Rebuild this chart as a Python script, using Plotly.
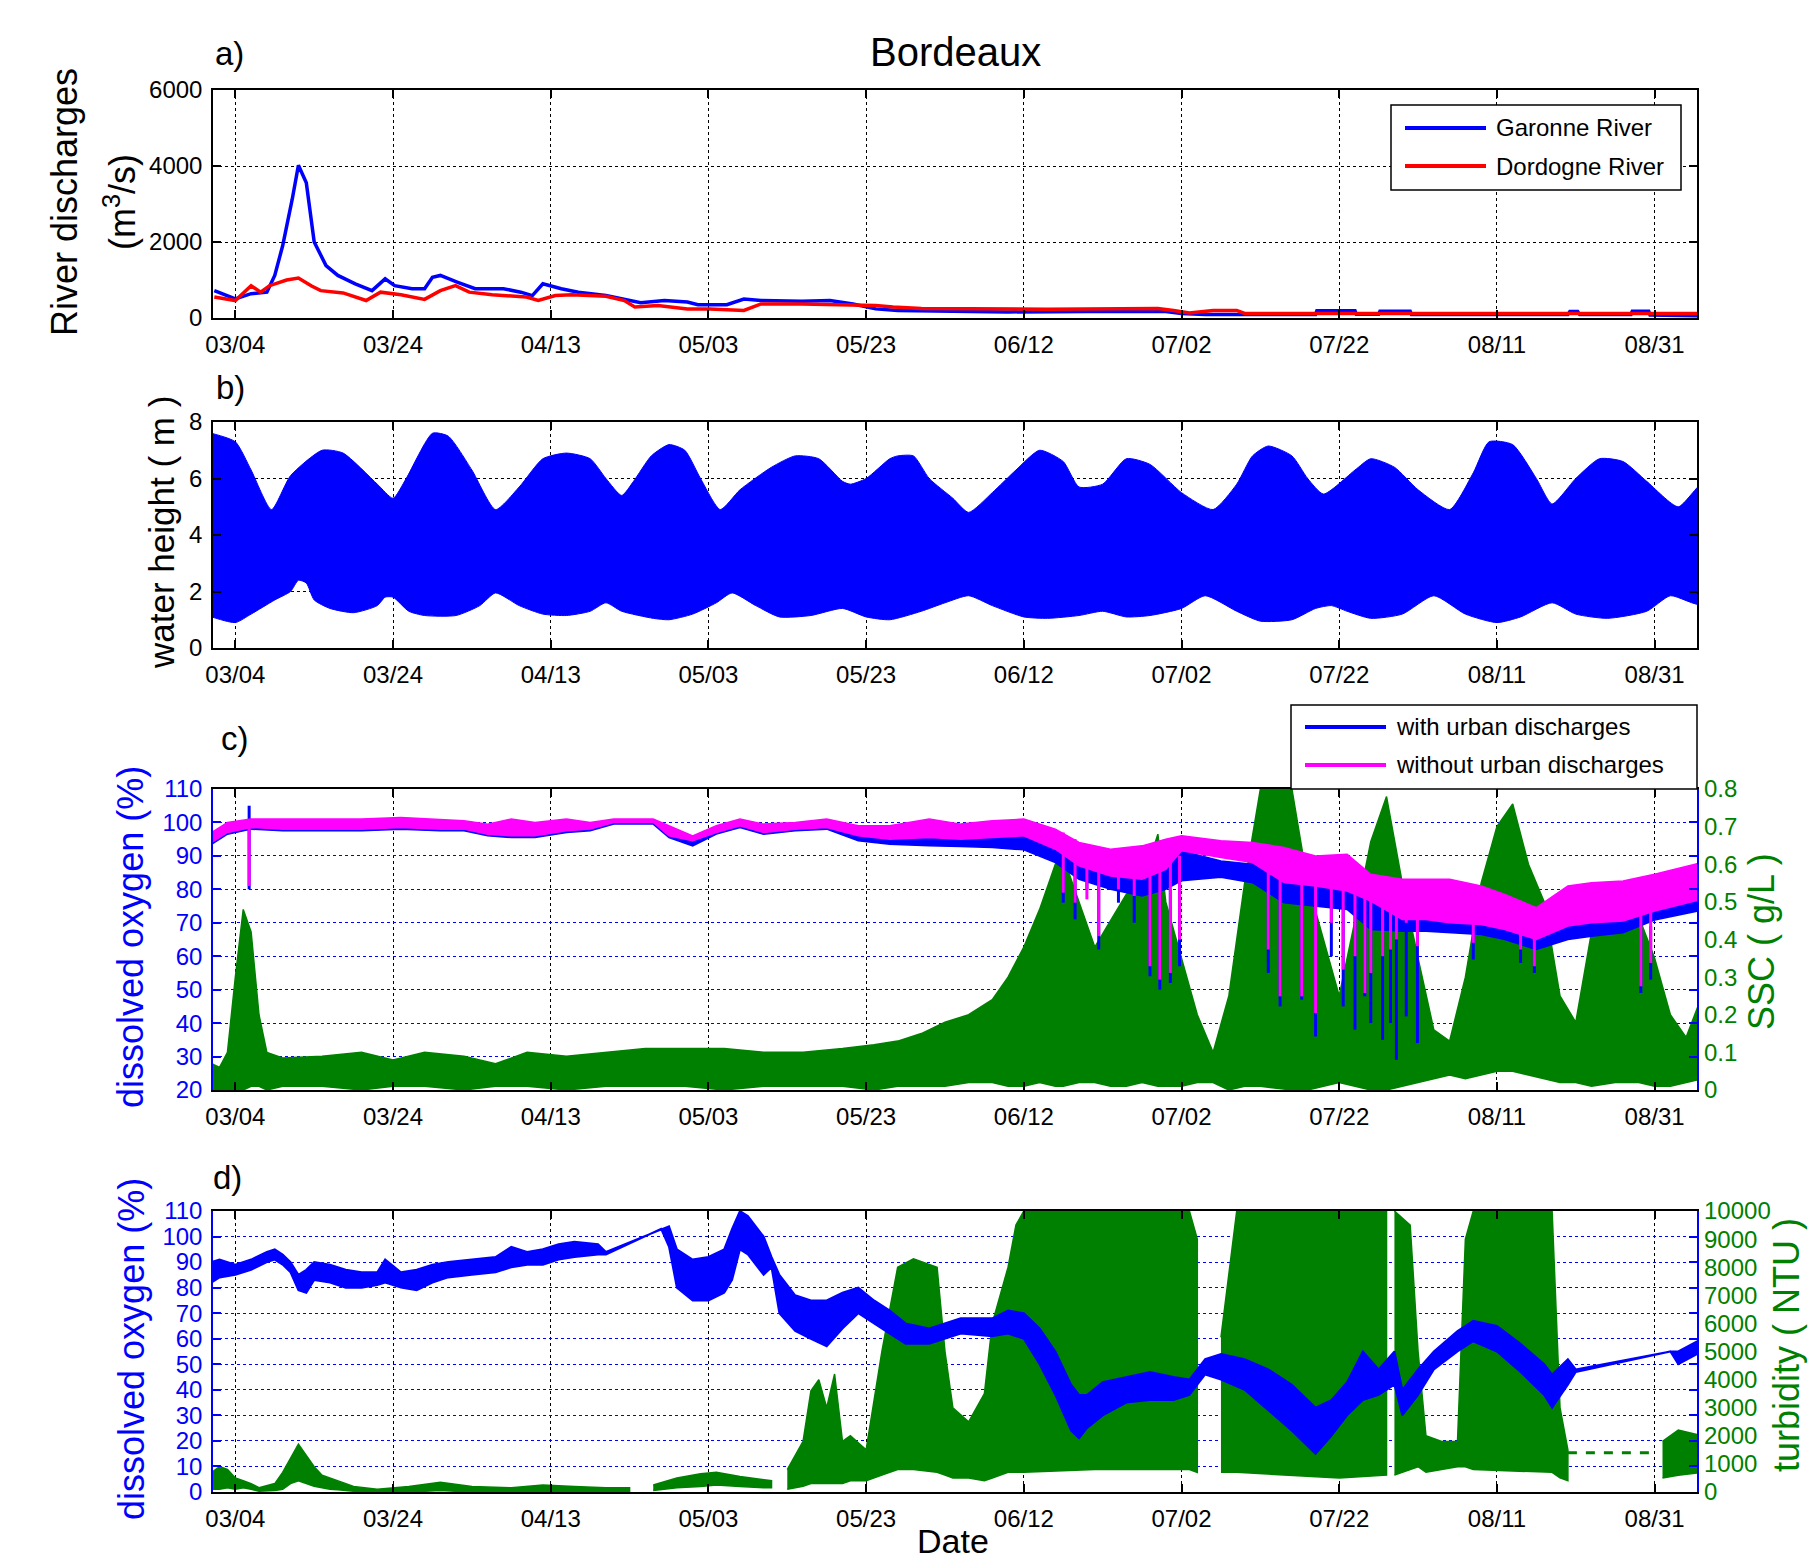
import plotly.graph_objects as go

YEAR = "2013-"
W, H = 1809, 1564
FONT = "Liberation Sans, Arial, Helvetica, sans-serif"
BLUE = "#0000FF"
RED = "#FF0000"
MAG = "#FF00FF"
GREEN = "#008000"

# ---------------- shared x axis ----------------
x_range = ["2013-03-01 04:00", "2013-09-05 09:00"]
tick_dates = ["03-04", "03-24", "04-13", "05-03", "05-23", "06-12", "07-02", "07-22", "08-11", "08-31"]
tick_text = ["03/04", "03/24", "04/13", "05/03", "05/23", "06/12", "07/02", "07/22", "08/11", "08/31"]

# ---------------- panel a : river discharges (m3/s) ----------------
garonne_dates = ["03-01 08:00", "03-03 05:00", "03-04", "03-06", "03-08", "03-09", "03-10", "03-11 05:00", "03-12",
                 "03-13", "03-14", "03-15 12:00", "03-17", "03-19 05:00", "03-21 08:00", "03-23", "03-24 05:00",
                 "03-26 10:00", "03-28", "03-29", "03-30", "04-01 05:00", "04-03 10:00", "04-07", "04-09 05:00",
                 "04-10 16:00", "04-12", "04-14 08:00", "04-16 12:00", "04-20", "04-22 08:00", "04-24 10:00",
                 "04-27 10:00", "04-30 08:00", "05-01 16:00", "05-05 08:00", "05-07 12:00", "05-09 16:00",
                 "05-14 20:00", "05-18 10:00", "05-21 08:00", "05-24 05:00", "05-27", "06-10", "06-20", "06-30",
                 "07-02", "07-05", "07-19", "07-19 04:00", "07-24", "07-24 04:00", "07-27", "07-27 04:00", "07-31",
                 "07-31 04:00", "08-20", "08-20 06:00", "08-21 06:00", "08-21 12:00", "08-28", "08-28 04:00",
                 "08-30 06:00", "08-30 10:00", "09-06"]
garonne_q = [720, 550, 500, 640, 680, 1120, 1900, 3120, 4020,
             3560, 2000, 1380, 1120, 900, 720, 1030, 850,
             770, 770, 1070, 1120, 940, 770, 770, 680,
             590, 900, 770, 680, 590, 500, 400,
             460, 420, 350, 350, 500, 460,
             440, 460, 370, 240, 200, 160, 170, 170,
             120, 90, 90, 190, 190, 100, 100, 180, 180,
             90, 90, 170, 170, 90, 90, 180,
             180, 80, 60]
dordogne_dates = ["03-01 08:00", "03-04", "03-06", "03-07 05:00", "03-08 08:00", "03-10 12:00", "03-12",
                  "03-13 16:00", "03-14 20:00", "03-17 16:00", "03-20 14:00", "03-22 10:00", "03-25", "03-28",
                  "03-30", "03-31 22:00", "04-02 16:00", "04-05 14:00", "04-09 22:00", "04-11 10:00",
                  "04-13 14:00", "04-15 16:00", "04-20", "04-22 08:00", "04-23 16:00", "04-26 14:00",
                  "04-30 08:00", "05-03 05:00", "05-07 12:00", "05-09 16:00", "05-14 20:00", "05-19 22:00",
                  "05-24 05:00", "05-26 10:00", "05-30", "06-15", "06-29", "07-01", "07-03", "07-06", "07-09",
                  "07-10", "08-15", "09-06"]
dordogne_q = [550, 460, 850, 680, 850, 1000, 1050,
              840, 720, 660, 460, 680, 610, 490,
              720, 850, 680, 610, 550, 460,
              590, 610, 570, 460, 290, 330,
              240, 240, 200, 370, 370, 350,
              330, 290, 250, 230, 250, 200, 130, 200, 200,
              120, 110, 120]

# ---------------- panel b : water height envelope (m) ----------------
wh_hi_dates = ["03-01", "03-04", "03-06", "03-08 14:00", "03-11", "03-15", "03-17 16:00", "03-22", "03-24",
               "03-25 16:00", "03-29", "03-31", "04-03", "04-06", "04-09", "04-12", "04-15", "04-18", "04-20",
               "04-22", "04-23 12:00", "04-25 18:00", "04-28", "04-30", "05-02", "05-04 12:00", "05-07", "05-11",
               "05-14", "05-17", "05-20", "05-21", "05-23", "05-26", "05-27", "05-29", "05-31", "06-03", "06-05",
               "06-08", "06-11", "06-14", "06-17", "06-19", "06-22", "06-25", "06-28", "07-02", "07-06", "07-09",
               "07-11", "07-13", "07-16", "07-18", "07-20", "07-24", "07-26", "07-29", "08-01", "08-05", "08-08",
               "08-10", "08-13", "08-16", "08-18", "08-21", "08-24", "08-27", "08-30", "09-03", "09-06"]
wh_hi = [7.6, 7.3, 6.3, 4.9, 6.1, 7.0, 6.9, 5.8, 5.3,
         6.0, 7.6, 7.5, 6.3, 4.9, 5.7, 6.7, 6.9, 6.7, 6.0,
         5.4, 5.9, 6.8, 7.2, 7.0, 6.0, 4.9, 5.6, 6.4,
         6.8, 6.7, 5.9, 5.8, 6.0, 6.7, 6.8, 6.8, 6.0, 5.3, 4.8,
         5.5, 6.3, 7.0, 6.6, 5.7, 5.8, 6.7, 6.5, 5.5, 4.9, 5.8,
         6.8, 7.15, 6.8, 6.0, 5.45, 6.3, 6.7, 6.4, 5.6, 4.9, 6.2,
         7.3, 7.2, 6.0, 5.1, 6.0, 6.7, 6.6, 5.9, 5.0, 5.8]
wh_lo_dates = ["03-01", "03-04", "03-06", "03-09", "03-11", "03-12", "03-13", "03-14", "03-16", "03-19", "03-22",
               "03-23", "03-24", "03-26", "03-28", "04-01", "04-04", "04-06", "04-09", "04-12", "04-15", "04-18",
               "04-20", "04-22", "04-26", "04-28", "05-01", "05-04", "05-06", "05-09", "05-12", "05-16", "05-20",
               "05-23", "05-26", "05-30", "06-02", "06-05", "06-08", "06-12", "06-15", "06-19", "06-22", "06-25",
               "06-28", "07-02", "07-05", "07-09", "07-12", "07-16", "07-19", "07-21", "07-23", "07-26", "07-30",
               "08-03", "08-07", "08-11", "08-14", "08-18", "08-21", "08-25", "08-30", "09-02", "09-06"]
wh_lo = [1.1, 0.9, 1.2, 1.7, 2.0, 2.4, 2.3, 1.7, 1.4, 1.25, 1.5,
         1.8, 1.8, 1.3, 1.15, 1.15, 1.5, 1.95, 1.5, 1.2, 1.15, 1.3,
         1.6, 1.3, 1.05, 1.0, 1.2, 1.6, 1.95, 1.5, 1.1, 1.15, 1.4,
         1.1, 1.0, 1.3, 1.6, 1.85, 1.5, 1.1, 1.05, 1.15, 1.3, 1.1,
         1.15, 1.4, 1.85, 1.3, 0.95, 1.0, 1.4, 1.5, 1.3, 1.05, 1.2,
         1.85, 1.2, 0.9, 1.1, 1.6, 1.2, 1.05, 1.3, 1.85, 1.55]

# ---------------- panel c : dissolved oxygen (%) and SSC (g/L) ----------------
c_do_dates = ["03-01", "03-03", "03-06", "03-10", "03-15", "03-20", "03-25", "03-30", "04-02", "04-05", "04-08",
              "04-11", "04-15", "04-18", "04-21", "04-26", "04-28", "05-01", "05-04", "05-07", "05-10", "05-14",
              "05-18", "05-22", "05-26", "05-31", "06-04", "06-08", "06-12", "06-16", "06-19", "06-23", "06-27",
              "06-30", "07-02", "07-07", "07-11", "07-15", "07-19", "07-23", "07-26", "07-30", "08-02", "08-05",
              "08-09", "08-12", "08-16", "08-20", "08-23", "08-27", "08-31", "09-06"]
do_without_hi = [97, 100, 101, 101, 101, 101, 101.5, 101, 100.5, 99.5, 101,
                 100, 101, 100, 101, 101, 99, 96, 99, 101, 99.5, 100,
                 101, 99, 99, 101, 99.5, 100.5, 101, 98, 94, 92, 93,
                 95, 96, 94.5, 94, 92.5, 90, 90.5, 84.5, 83, 83, 83,
                 81, 78.5, 74.5, 81, 82, 82.5, 84.5, 88]
do_without_lo = [94, 97, 98.5, 98, 98, 98, 98.5, 98, 98, 96.5, 96,
                 96, 97.5, 98, 100, 100, 96, 94.5, 97, 99, 97, 98,
                 98.5, 96, 95, 95.5, 95, 95.5, 96, 92, 87, 84, 83,
                 86, 91.5, 89.5, 88, 82, 81, 79.5, 76.5, 71, 71, 70,
                 69.5, 68, 65, 69, 70, 70.5, 73.5, 77]
do_with_hi = [96, 99, 100.5, 100.5, 100.5, 100.5, 101, 100.5, 100, 99, 100.5,
              99.5, 100.5, 99.5, 100.5, 100.5, 98.5, 95.5, 98.5, 100.5, 99, 99.5,
              100.5, 98, 97, 99, 98, 98.5, 99, 96, 87, 84, 83,
              86, 91.5, 88.5, 87.5, 82, 81, 79.5, 76.5, 71, 71, 70,
              69.5, 68, 65, 69, 70, 70.5, 73.5, 77]
do_with_lo = [93.5, 96.5, 98, 97.5, 97.5, 97.5, 98, 97.5, 97.5, 96, 95.5,
              95.5, 97, 97.5, 99.5, 99.5, 95.5, 93, 96.5, 98.5, 96.5, 97.5,
              98, 94.5, 93.5, 93, 92.8, 92.5, 91.8, 88, 83, 80, 78,
              80, 82.6, 83.6, 82, 76, 75, 74, 68, 67.5, 67.5, 67,
              66.5, 65, 62, 65, 66, 67, 70.8, 73.8]
# isolated excursions of the oxygen signal
c_spike_dates = ["03-05 18:00", "06-17", "06-18 12:00", "06-20", "06-21 12:00", "06-24", "06-26", "06-28",
                 "06-29 06:00", "06-30 14:00", "07-01 18:00", "07-13", "07-14 12:00", "07-17 06:00", "07-19",
                 "07-21", "07-22 12:00", "07-24", "07-25 06:00", "07-26", "07-27 12:00", "07-28 12:00",
                 "07-29 06:00", "07-30 12:00", "07-31 22:00", "08-08", "08-14", "08-15 18:00", "08-29 06:00",
                 "08-30 12:00"]
spike_with_lo = [80, 76, 71, 80, 62, 76, 70, 54, 50, 52, 57, 55, 45, 47, 36, 60, 45, 38, 48, 40, 35, 40,
                 29, 42, 34, 59, 58, 55, 49, 53]
spike_with_hi = [105, 95, 93, 90, 86, 84, 82, 80, 80, 80, 82, 82, 80, 78, 78, 76, 75, 74, 72, 70, 70, 69,
                 69, 68, 68, 67, 64, 63, 68, 69]
spike_without_lo = [81, 79, 76, 77, 66, 80, 78, 57, 53, 55, 65, 62, 48, 48, 43, 70, 56, 60, 49, 55, 60, 62,
                    65, 70, 63, 64, 62, 57, 51, 58]
spike_without_hi = [101, 97, 95, 93, 90, 88, 88, 88, 88, 88, 90, 86, 86, 84, 84, 82, 80, 80, 78, 78, 76, 74,
                    74, 74, 74, 76, 70, 68, 76, 76]

ssc_dates = ["03-01", "03-02", "03-03", "03-04", "03-05", "03-06", "03-07", "03-08", "03-10", "03-15", "03-20",
             "03-24", "03-28", "04-02", "04-06", "04-10", "04-15", "04-20", "04-25", "04-30", "05-05", "05-10",
             "05-15", "05-20", "05-24", "05-27", "05-30", "06-02", "06-05", "06-08", "06-10", "06-12", "06-14",
             "06-16", "06-17", "06-19", "06-21", "06-23", "06-25", "06-27", "06-29", "06-30", "07-02", "07-04",
             "07-06", "07-08", "07-10", "07-12", "07-16", "07-18", "07-20", "07-22", "07-24", "07-26", "07-28",
             "07-30", "08-01", "08-03", "08-05", "08-07", "08-09", "08-11", "08-13", "08-15", "08-17", "08-19",
             "08-21", "08-23", "08-26", "08-29", "08-31", "09-02", "09-04", "09-06"]
ssc_hi = [0.07, 0.06, 0.1, 0.3, 0.48, 0.42, 0.2, 0.1, 0.085, 0.09, 0.1,
          0.08, 0.1, 0.09, 0.07, 0.1, 0.09, 0.1, 0.11, 0.11, 0.11, 0.1,
          0.1, 0.11, 0.12, 0.13, 0.15, 0.18, 0.2, 0.24, 0.3, 0.38, 0.48,
          0.6, 0.62, 0.5, 0.38, 0.45, 0.52, 0.55, 0.68, 0.5, 0.35, 0.2,
          0.1, 0.25, 0.55, 0.8, 0.8, 0.55, 0.4, 0.25, 0.45, 0.66, 0.78,
          0.55, 0.35, 0.16, 0.13, 0.3, 0.55, 0.7, 0.76, 0.6, 0.5, 0.25,
          0.18, 0.42, 0.55, 0.46, 0.35, 0.2, 0.14, 0.25]
ssc_lo = [0.0, 0.0, 0.0, 0.0, 0.0, 0.01, 0.01, 0.0, 0.01, 0.01, 0.0,
          0.01, 0.01, 0.0, 0.01, 0.01, 0.0, 0.01, 0.01, 0.01, 0.0, 0.01,
          0.01, 0.01, 0.0, 0.01, 0.01, 0.01, 0.02, 0.02, 0.01, 0.01, 0.02,
          0.01, 0.01, 0.02, 0.02, 0.01, 0.01, 0.02, 0.01, 0.01, 0.01, 0.02,
          0.02, 0.0, 0.01, 0.01, 0.0, 0.0, 0.01, 0.02, 0.01, 0.0, 0.0,
          0.01, 0.02, 0.03, 0.04, 0.03, 0.04, 0.05, 0.05, 0.04, 0.03, 0.02,
          0.02, 0.01, 0.02, 0.02, 0.01, 0.01, 0.02, 0.03]

# ---------------- panel d : measured dissolved oxygen (%) and turbidity (NTU) ----------------
d_do_dates = ["03-01", "03-02", "03-04", "03-06", "03-08", "03-09", "03-10", "03-11", "03-12", "03-13",
              "03-14", "03-16", "03-18", "03-20", "03-22", "03-23", "03-25", "03-27", "03-29", "03-31",
              "04-03", "04-06", "04-08", "04-10", "04-12", "04-14", "04-16", "04-19", "04-20", "04-27",
              "04-28", "04-29", "05-01", "05-03", "05-05", "05-06", "05-07", "05-08", "05-10", "05-11",
              "05-12", "05-14", "05-16", "05-18", "05-20", "05-22", "05-24", "05-26", "05-28", "05-31",
              "06-04", "06-08", "06-10", "06-12", "06-14", "06-16", "06-18", "06-19", "06-20", "06-22",
              "06-25", "06-28", "07-01", "07-03", "07-05", "07-07", "07-10", "07-13", "07-16", "07-19",
              "07-21", "07-23", "07-25", "07-27", "07-29", "07-30", "08-01", "08-03", "08-06", "08-08",
              "08-11", "08-14", "08-17", "08-18", "08-20", "08-21", "09-02", "09-03", "09-06"]
d_do_hi = [90, 91, 89, 91, 94, 95, 93, 90, 85, 87,
           90, 89, 87, 86, 86, 91, 86, 87, 89, 90,
           91, 92, 96, 94, 95, 97, 98, 97, 94, 103,
           104, 95, 91, 92, 95, 103, 110, 108, 100, 92,
           85, 77, 75, 75, 78, 80, 75, 71, 66, 64,
           68, 68, 71, 70, 64, 55, 42, 38, 38, 43,
           45, 47, 45, 44, 52, 54, 52, 48, 42, 33,
           36, 43, 55, 48, 55, 40, 48, 55, 63, 67,
           65, 58, 50, 46, 52, 48, 55, 55, 60]
d_do_lo = [82, 84, 85, 87, 90, 91, 89, 86, 79, 78,
           83, 82, 80, 80, 81, 82, 80, 79, 82, 84,
           85, 86, 88, 89, 89, 91, 92, 93, 93, 103,
           96, 80, 75, 75, 78, 83, 95, 93, 85, 88,
           70, 63, 60, 57, 64, 70, 66, 62, 58, 58,
           62, 61, 62, 60, 50, 38, 24, 21, 25, 30,
           35, 36, 36, 38, 46, 44, 40, 32, 24, 15,
           22, 30, 36, 38, 42, 30, 38, 48, 55, 59,
           55, 47, 38, 33, 42, 47, 55, 50, 55]

turb_dates = ["03-01", "03-02", "03-03", "03-04", "03-05", "03-06", "03-07", "03-09", "03-10", "03-11", "03-12",
              "03-13", "03-14", "03-15", "03-16", "03-17", "03-19", "03-22", "03-26", "03-30", "04-03", "04-08",
              "04-12", "04-16", "04-20", "04-23", None,
              "04-26", "04-29", "05-02", "05-04", "05-07", "05-10", "05-11", None,
              "05-13", "05-15", "05-16", "05-17", "05-18", "05-19", "05-20", "05-21", "05-23", "05-25", "05-27",
              "05-29", "06-01", "06-02", "06-03", "06-05", "06-07", "06-08", "06-10", "06-11", "06-12", "06-21",
              "06-30", "07-03", "07-04", None,
              "07-07", "07-09", "07-22", "07-28", None,
              "07-29", "07-31", "08-01", "08-02", "08-04", "08-06", "08-07", "08-08", "08-18", "08-19", "08-20", None,
              "09-01", "09-03", "09-06"]
turb_hi = [700, 900, 800, 500, 400, 300, 150, 300, 700, 1200, 1700,
           1300, 900, 600, 500, 400, 200, 100, 200, 350, 200, 150,
           250, 200, 150, 150, None,
           250, 500, 650, 700, 550, 450, 400, None,
           800, 1800, 3600, 4000, 3000, 4200, 1800, 2000, 1500, 5000, 8000,
           8300, 8000, 5000, 3000, 2500, 3500, 6000, 8000, 9500, 10000, 10000,
           10000, 10000, 9000, None,
           5500, 10000, 10000, 10000, None,
           10000, 9500, 5000, 2000, 1800, 1800, 9000, 10000, 10000, 3000, 1500, None,
           1800, 2200, 2000]
turb_lo = [100, 100, 150, 100, 150, 100, 30, 50, 100, 300, 400,
           300, 200, 150, 100, 80, 30, 0, 0, 50, 0, 0,
           0, 0, 0, 0, None,
           50, 150, 200, 250, 200, 150, 150, None,
           100, 200, 300, 300, 300, 300, 300, 400, 400, 600, 800,
           800, 700, 600, 500, 500, 400, 500, 700, 700, 700, 800,
           800, 800, 700, None,
           700, 700, 500, 600, None,
           600, 800, 900, 700, 800, 900, 900, 800, 700, 500, 400, None,
           500, 600, 700]
turb_dash_dates = ["08-20", "08-31"]
turb_dash = [1400, 1400]


# ---------------- helpers ----------------
def D(s):
    return None if s is None else YEAR + s


def px(x):
    return x / W


def py(y):
    return 1 - y / H


def band(hd, hv, ld, lv):
    xs = [D(s) for s in hd] + [D(s) for s in ld[::-1]]
    ys = list(hv) + list(lv[::-1])
    return xs, ys


def seg_bands(dates, hi, lo):
    xs, ys, seg = [], [], []
    for i, d in enumerate(list(dates) + [None]):
        if d is None:
            if seg:
                xs += [D(dates[j]) for j in seg] + [D(dates[j]) for j in seg[::-1]] + [None]
                ys += [hi[j] for j in seg] + [lo[j] for j in seg[::-1]] + [None]
            seg = []
        else:
            seg.append(i)
    return xs, ys


def spikes(dates, lo, hi):
    xs, ys = [], []
    for d, a, b in zip(dates, lo, hi):
        xs += [D(d), D(d), None]
        ys += [a, b, None]
    return xs, ys


fig = go.Figure()

# panel a
fig.add_trace(go.Scatter(x=[D(s) for s in garonne_dates], y=garonne_q, mode="lines",
                         line=dict(color=BLUE, width=3.5), xaxis="x", yaxis="y", showlegend=False))
fig.add_trace(go.Scatter(x=[D(s) for s in dordogne_dates], y=dordogne_q, mode="lines",
                         line=dict(color=RED, width=3.5), xaxis="x", yaxis="y", showlegend=False))

# panel b
bx, by = band(wh_hi_dates, wh_hi, wh_lo_dates, wh_lo)
fig.add_trace(go.Scatter(x=bx, y=by, mode="lines", fill="toself", fillcolor=BLUE,
                         line=dict(color=BLUE, width=1, shape="spline", smoothing=0.6),
                         xaxis="x2", yaxis="y2", showlegend=False))

# panel c : SSC on base axis y3, oxygen on overlay axis y5 (drawn on top)
sx, sy = band(ssc_dates, ssc_hi, ssc_dates, ssc_lo)
fig.add_trace(go.Scatter(x=sx, y=sy, mode="lines", fill="toself", fillcolor=GREEN,
                         line=dict(color=GREEN, width=1.5), xaxis="x3", yaxis="y3", showlegend=False))
wx, wy = band(c_do_dates, do_with_hi, c_do_dates, do_with_lo)
fig.add_trace(go.Scatter(x=wx, y=wy, mode="lines", fill="toself", fillcolor=BLUE,
                         line=dict(color=BLUE, width=1.5), xaxis="x3", yaxis="y5", showlegend=False))
kx, ky = spikes(c_spike_dates, spike_with_lo, spike_with_hi)
fig.add_trace(go.Scatter(x=kx, y=ky, mode="lines", line=dict(color=BLUE, width=3),
                         xaxis="x3", yaxis="y5", showlegend=False))
ox, oy = band(c_do_dates, do_without_hi, c_do_dates, do_without_lo)
fig.add_trace(go.Scatter(x=ox, y=oy, mode="lines", fill="toself", fillcolor=MAG,
                         line=dict(color=MAG, width=1.5), xaxis="x3", yaxis="y5", showlegend=False))
mx, my = spikes(c_spike_dates, spike_without_lo, spike_without_hi)
fig.add_trace(go.Scatter(x=mx, y=my, mode="lines", line=dict(color=MAG, width=3),
                         xaxis="x3", yaxis="y5", showlegend=False))

# panel d : turbidity on base axis y4, oxygen on overlay axis y6
tx, ty = seg_bands(turb_dates, turb_hi, turb_lo)
fig.add_trace(go.Scatter(x=tx, y=ty, mode="lines", fill="toself", fillcolor=GREEN,
                         line=dict(color=GREEN, width=1.5), xaxis="x4", yaxis="y4", showlegend=False))
fig.add_trace(go.Scatter(x=[D(s) for s in turb_dash_dates], y=turb_dash, mode="lines",
                         line=dict(color=GREEN, width=3, dash="dash"), xaxis="x4", yaxis="y4", showlegend=False))
dx, dy = band(d_do_dates, d_do_hi, d_do_dates, d_do_lo)
fig.add_trace(go.Scatter(x=dx, y=dy, mode="lines", fill="toself", fillcolor=BLUE,
                         line=dict(color=BLUE, width=2), xaxis="x4", yaxis="y6", showlegend=False))

# ---------------- axes ----------------
XD = [px(213), px(1697)]
DOM = {
    "a": [py(318), py(90)],
    "b": [py(648), py(422)],
    "c": [py(1090), py(789)],
    "d": [py(1492), py(1211)],
}
tickfont = dict(family=FONT, size=24, color="black")


def xax(anchor):
    return dict(type="date", range=x_range, domain=XD, anchor=anchor, automargin=False,
                tickvals=[D(t) for t in tick_dates], ticktext=tick_text,
                ticks="inside", ticklen=8, tickwidth=1.5, tickcolor="black",
                showline=True, linecolor="black", linewidth=1.5, mirror="ticks",
                showgrid=True, gridcolor="black", griddash="dot", gridwidth=1.2,
                zeroline=False, tickfont=tickfont, ticklabelstandoff=4)


def yax(dom, rng, vals, color="black", gridcolor="black", **kw):
    d = dict(range=rng, tickvals=vals, tickformat="d", automargin=False,
             ticks="inside", ticklen=8, tickwidth=1.5, tickcolor=color,
             showline=True, linecolor=color, linewidth=1.5, mirror="ticks",
             showgrid=True, gridcolor=gridcolor, griddash="dot", gridwidth=1.2,
             zeroline=False, tickfont=dict(family=FONT, size=24, color=color), ticklabelstandoff=4)
    if dom is not None:
        d["domain"] = dom
    d.update(kw)
    return d


do_c_ticks = [20, 30, 40, 50, 60, 70, 80, 90, 100, 110]
do_d_ticks = [0, 10, 20, 30, 40, 50, 60, 70, 80, 90, 100, 110]
ssc_ticks = [0, 0.1, 0.2, 0.3, 0.4, 0.5, 0.6, 0.7, 0.8]
turb_ticks = [0, 1000, 2000, 3000, 4000, 5000, 6000, 7000, 8000, 9000, 10000]

fig.update_layout(
    width=W, height=H, autosize=False,
    margin=dict(l=0, r=0, t=0, b=0, pad=0),
    paper_bgcolor="white", plot_bgcolor="white",
    showlegend=False,
    xaxis=xax("y"), xaxis2=xax("y2"), xaxis3=xax("y3"), xaxis4=xax("y4"),
    yaxis=yax(DOM["a"], [0, 6000], [0, 2000, 4000, 6000], anchor="x"),
    yaxis2=yax(DOM["b"], [0, 8], [0, 2, 4, 6, 8], anchor="x2"),
    yaxis3=dict(domain=DOM["c"], anchor="x3", side="right", range=[0, 0.8], tickvals=ssc_ticks,
                ticktext=[("%g" % v) for v in ssc_ticks], ticks="", showline=False, automargin=False,
                showgrid=False, zeroline=False, ticklabelstandoff=6,
                tickfont=dict(family=FONT, size=24, color=GREEN)),
    yaxis5=yax(None, [20, 110], do_c_ticks, color=BLUE, gridcolor=BLUE,
               overlaying="y3", side="left", anchor="x3"),
    yaxis4=dict(domain=DOM["d"], anchor="x4", side="right", range=[0, 10000], tickvals=turb_ticks,
                tickformat="d", ticks="", showline=False, showgrid=False, zeroline=False, automargin=False,
                ticklabelstandoff=6, tickfont=dict(family=FONT, size=24, color=GREEN)),
    yaxis6=yax(None, [0, 110], do_d_ticks, color=BLUE, gridcolor=BLUE,
               overlaying="y4", side="left", anchor="x4"),
)

# ---------------- text ----------------
ann = []


def text(x, y, s, size, color="black", angle=0, xanchor="center", yanchor="middle"):
    ann.append(dict(x=px(x), y=py(y), xref="paper", yref="paper", text=s, showarrow=False,
                    textangle=angle, xanchor=xanchor, yanchor=yanchor,
                    font=dict(family=FONT, size=size, color=color)))


text(955, 52, "Bordeaux", 40)
text(229, 54, "a)", 33)
text(230, 388, "b)", 33)
text(235, 738, "c)", 33)
text(227, 1177, "d)", 33)
text(65, 202, "River discharges", 36, angle=-90)
text(120, 202, "(m<sup>3</sup>/s)", 36, angle=-90)
text(161, 533, "water height ( m )", 35, angle=-90)
text(131, 937, "dissolved oxygen (%)", 36, color=BLUE, angle=-90)
text(1761, 942, "SSC ( g/L )", 36, color=GREEN, angle=-90)
text(131, 1349, "dissolved oxygen (%)", 36, color=BLUE, angle=-90)
text(1786, 1345, "turbidity ( NTU )", 36, color=GREEN, angle=-90)
text(953, 1562, "Date", 34, yanchor="bottom")

# legends (drawn manually as boxes)
shapes = []


def legend_box(x0, y0, x1, y1, rows):
    shapes.append(dict(type="rect", xref="paper", yref="paper", x0=px(x0), x1=px(x1), y0=py(y1), y1=py(y0),
                       line=dict(color="black", width=1.5), fillcolor="white", layer="above"))
    for (yy, col, lab) in rows:
        shapes.append(dict(type="line", xref="paper", yref="paper", x0=px(x0 + 14), x1=px(x0 + 95),
                           y0=py(yy), y1=py(yy), line=dict(color=col, width=4), layer="above"))
        text(x0 + 103, yy, lab, 24, xanchor="left")


legend_box(1391, 105, 1681, 190, [(128, BLUE, "Garonne River"), (166, RED, "Dordogne River")])
legend_box(1291, 705, 1697, 789, [(727, BLUE, "with urban discharges"), (765, MAG, "without urban discharges")])

fig.update_layout(annotations=ann, shapes=shapes)
fig.write_html("out.html")
